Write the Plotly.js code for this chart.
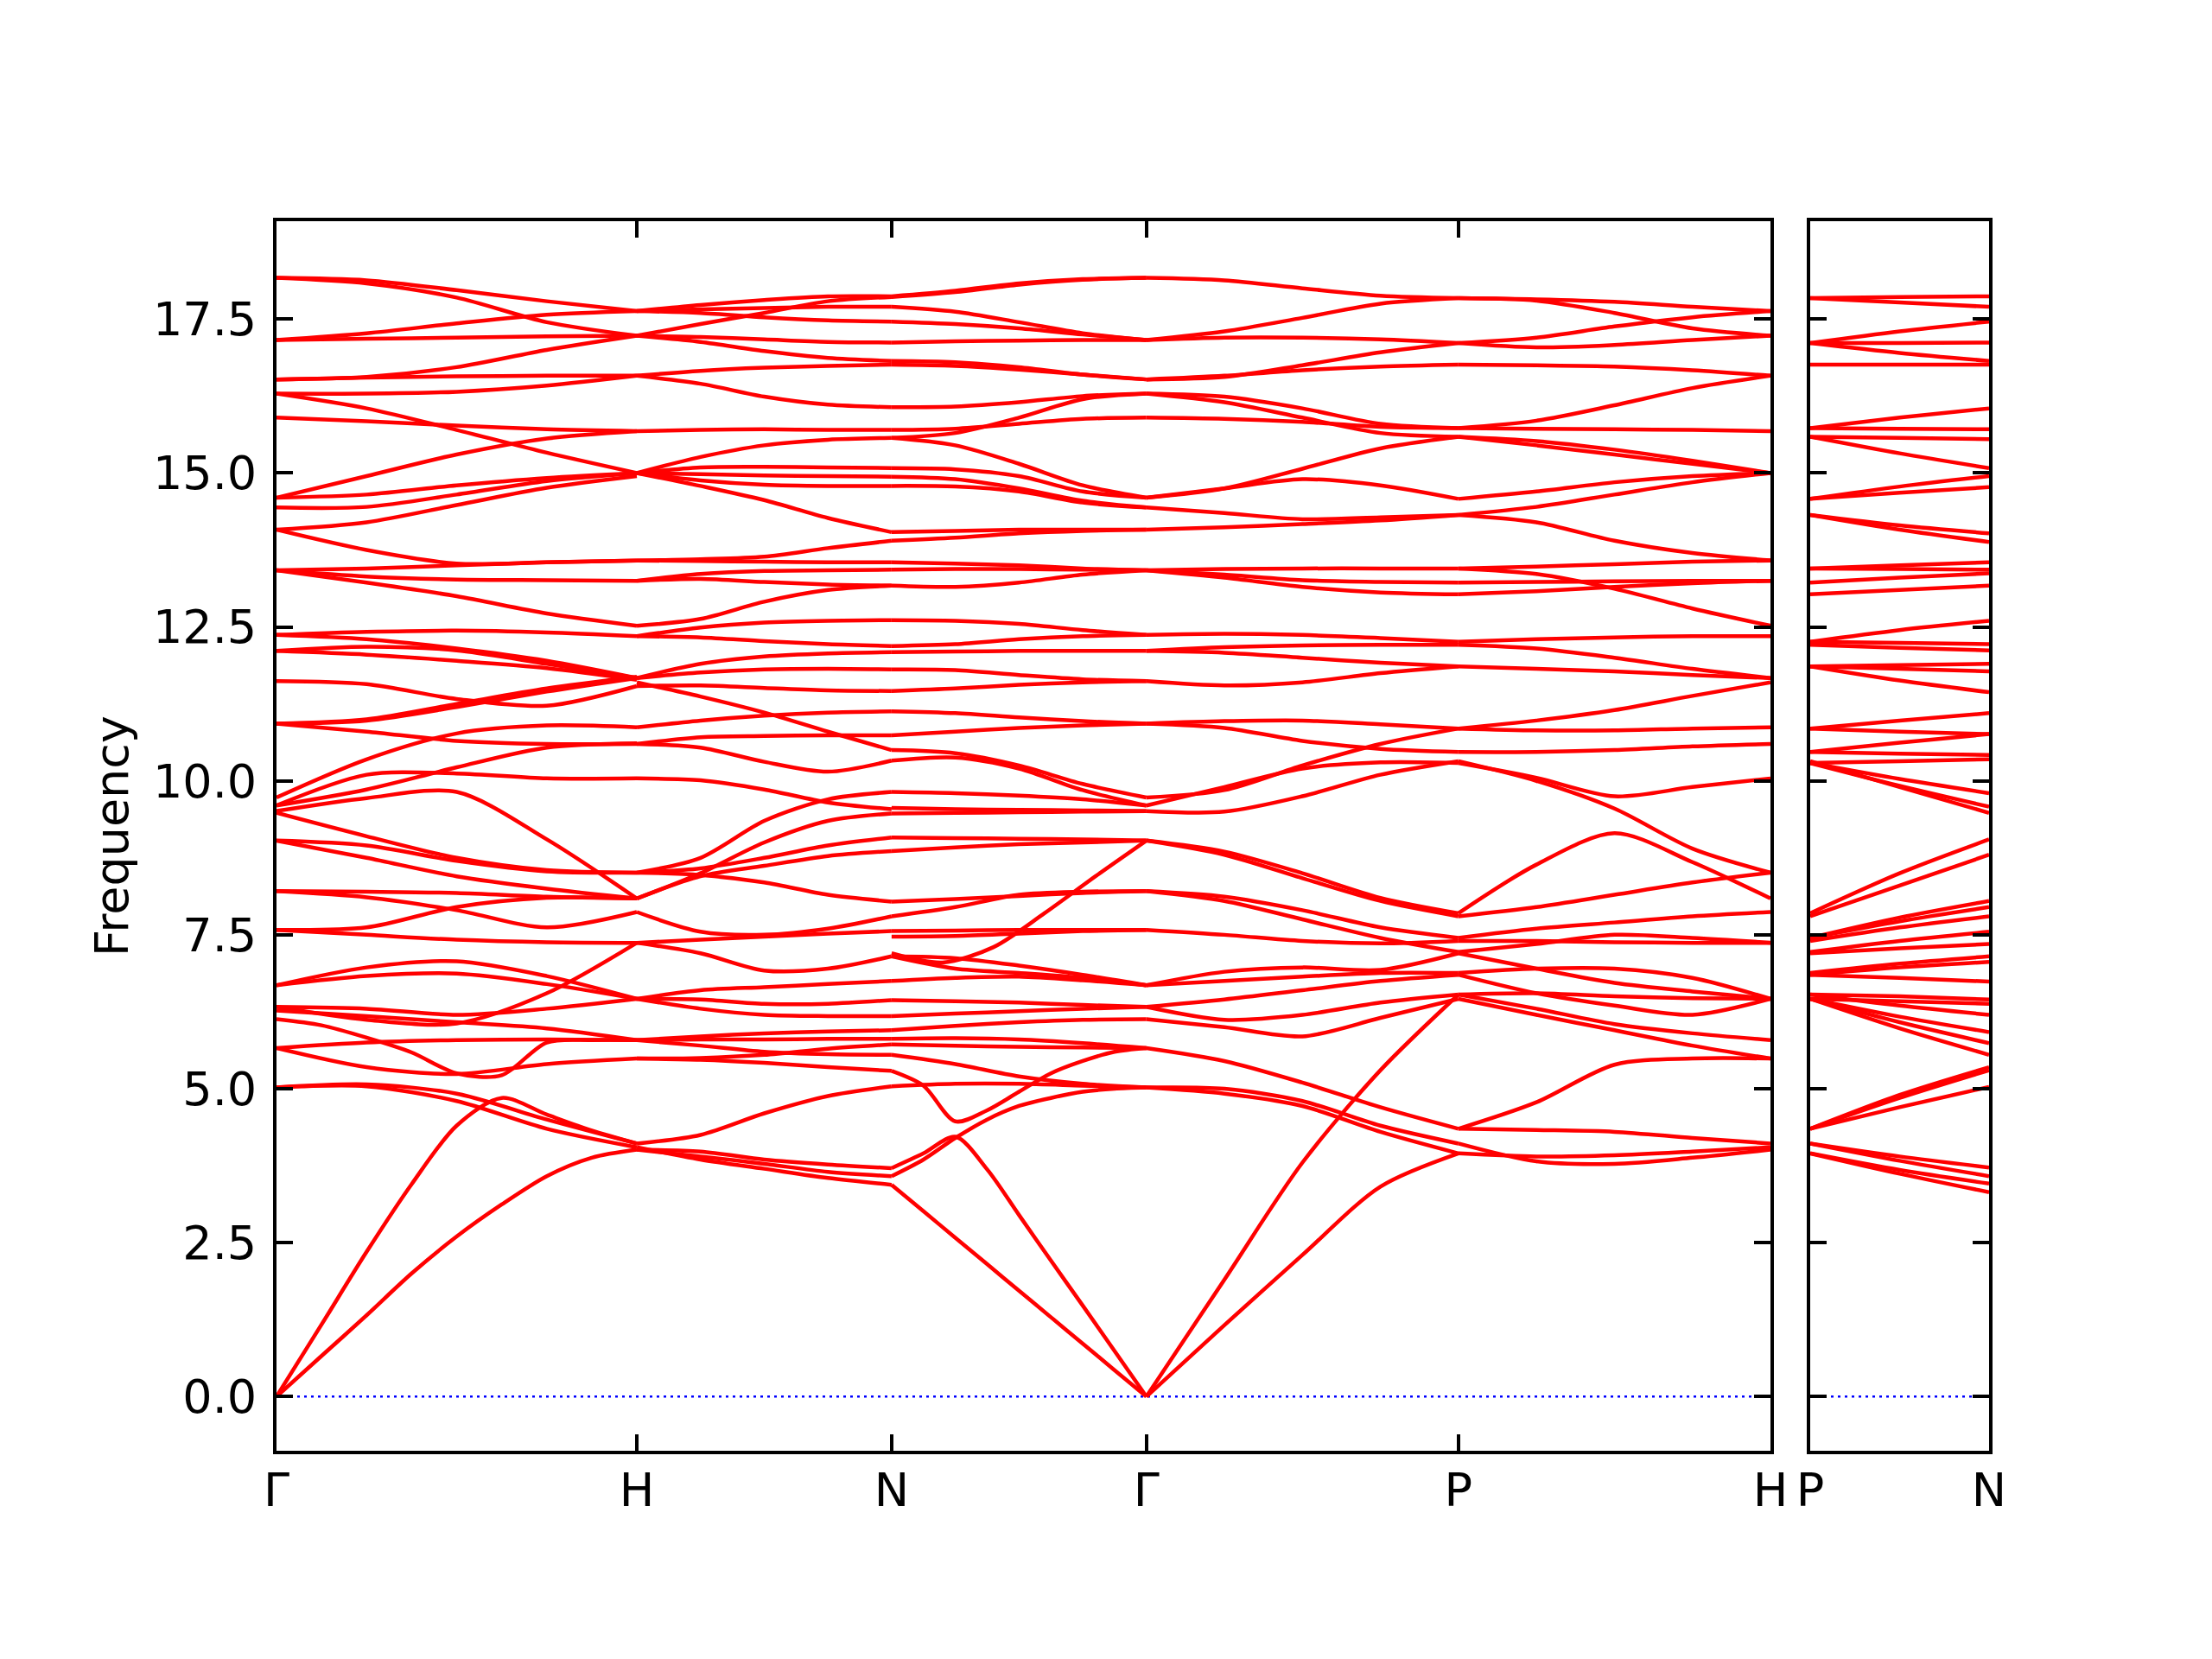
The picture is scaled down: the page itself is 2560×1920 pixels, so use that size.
<!DOCTYPE html>
<html><head><meta charset="utf-8">
<script src="https://cdn.plot.ly/plotly-3.0.1.min.js"></script>
<style>body{margin:0;background:#fff}</style>
</head><body><div id="chart" style="width:2560px;height:1920px"></div>
<script>
// ---- data ----
const segmentLengths = [1.0, 0.7071, 0.7071, 0.8660, 0.8660];   // Γ-H, H-N, N-Γ, Γ-P, P-H
const sideSegmentLength = 0.5;                                 // P-N
const mainTickLabels = ['Γ', 'H', 'N', 'Γ', 'P', 'H'];
const sideTickLabels = ['P', 'N'];
const yTickValues = [0, 2.5, 5, 7.5, 10, 12.5, 15, 17.5];
const zeroLevel = 0;

// each band: frequencies at evenly spaced points along the segment
const bandsGammaH = [
  [18.17,18.13,17.97,17.79,17.63],[18.17,18.08,17.85,17.45,17.23],[17.16,17.27,17.43,17.57,17.63],
  [17.16,17.18,17.2,17.22,17.23],[16.52,16.56,16.72,17.0,17.23],[16.52,16.55,16.57,16.58,16.58],
  [16.29,16.29,16.32,16.42,16.58],[16.29,16.05,15.7,15.33,15.0],[15.9,15.84,15.77,15.71,15.68],
  [14.6,14.95,15.3,15.56,15.68],[14.6,14.65,14.8,14.92,15.0],[14.44,14.45,14.65,14.87,15.0],
  [14.08,14.2,14.48,14.76,14.95],[14.08,13.75,13.53,13.55,13.58],[13.42,13.45,13.5,13.55,13.58],
  [13.42,13.32,13.27,13.26,13.25],[13.42,13.22,13.0,12.72,12.52],[12.37,12.42,12.44,12.41,12.35],
  [12.37,12.3,12.15,11.95,11.67],[12.11,12.18,12.12,11.9,11.67],[12.11,12.05,11.95,11.83,11.64],
  [11.62,11.57,11.33,11.22,11.54],[10.93,10.98,11.2,11.45,11.67],[10.93,11.0,11.25,11.5,11.69],
  [10.93,10.8,10.65,10.6,10.6],[9.73,10.35,10.77,10.9,10.87],[9.6,10.1,10.12,10.04,10.04],
  [9.6,9.86,10.22,10.54,10.61],[9.51,9.72,9.82,9.05,8.09],[9.48,9.1,8.75,8.55,8.51],
  [9.03,8.95,8.7,8.53,8.51],[9.03,8.75,8.45,8.25,8.09],[8.21,8.2,8.18,8.12,8.09],
  [8.21,8.11,7.9,7.62,7.87],[7.58,7.62,7.95,8.1,8.09],[7.58,7.5,7.42,7.38,7.37],
  [6.68,6.97,7.07,6.83,6.46],[6.68,6.83,6.87,6.7,6.46],[6.33,6.12,6.06,6.55,7.37],
  [6.33,6.3,6.2,6.3,6.46],[6.13,6.03,5.83,5.59,5.25,5.22,5.75,5.79,5.79],[6.27,6.18,6.08,5.98,5.79],
  [5.66,5.35,5.24,5.4,5.49],[5.66,5.75,5.79,5.8,5.79],[5.02,5.07,4.92,4.5,4.11],
  [5.02,5.04,4.8,4.35,4.05],[0,1.17,2.35,3.45,4.4,4.85,4.58,4.32,4.11],
  [0,0.66,1.32,2.0,2.6,3.12,3.58,3.88,4.01]
];
const bandsHN = [
  [17.63,17.73,17.81,17.87,17.87],[17.23,17.42,17.6,17.79,17.86],[17.63,17.66,17.68,17.7,17.7],
  [17.63,17.6,17.53,17.48,17.46],[17.23,17.21,17.17,17.13,17.12],[17.23,17.13,16.98,16.87,16.82],
  [16.58,16.66,16.71,16.74,16.76],[16.58,16.45,16.24,16.11,16.07],[15.68,15.7,15.71,15.7,15.7],
  [15.0,15.26,15.45,15.54,15.57],[15.0,15.09,15.1,15.09,15.08],[15.0,14.98,14.96,14.95,14.94],
  [15.0,14.88,14.81,14.79,14.79],[15.0,14.79,14.56,14.27,14.04],[13.58,13.6,13.64,13.78,13.9],
  [13.58,13.57,13.56,13.55,13.55],[13.25,13.36,13.41,13.42,13.43],[13.25,13.28,13.23,13.19,13.17],
  [12.52,12.63,12.91,13.1,13.17],[12.35,12.49,12.57,12.6,12.61],[12.35,12.33,12.27,12.22,12.19],
  [11.67,11.9,12.02,12.07,12.09],[11.67,11.76,11.81,11.82,11.81],[11.54,11.55,11.51,11.47,11.46],
  [11.6,11.37,11.11,10.8,10.5],[10.87,10.98,11.06,11.11,11.13],[10.6,10.71,10.73,10.74,10.74],
  [10.6,10.54,10.31,10.15,10.33],[10.04,10.01,9.86,9.65,9.54],[8.51,8.75,9.35,9.7,9.82],
  [8.51,8.58,8.75,8.95,9.08],[8.09,8.45,8.62,8.78,8.86],[8.09,8.5,9.0,9.35,9.47],
  [8.51,8.47,8.35,8.15,8.04],[7.87,7.55,7.5,7.6,7.8],[7.37,7.42,7.47,7.52,7.56],
  [7.37,7.2,6.92,6.95,7.15],[6.46,6.6,6.65,6.7,6.75],[6.46,6.45,6.38,6.38,6.44],
  [6.46,6.3,6.2,6.18,6.18],[5.79,5.85,5.9,5.93,5.95],[5.79,5.8,5.8,5.81,5.81],
  [5.49,5.5,5.55,5.65,5.72],[5.49,5.47,5.42,5.35,5.29],[5.79,5.7,5.6,5.56,5.55],
  [4.11,4.25,4.6,4.88,5.04],[4.01,3.98,3.85,3.77,3.71],[4.01,3.9,3.78,3.65,3.58],
  [4.05,3.85,3.7,3.55,3.44]
];
const bandsNGamma = [
  [17.87,17.96,18.08,18.15,18.17],[17.86,17.94,18.06,18.14,18.17],[17.7,17.62,17.45,17.27,17.16],
  [17.46,17.42,17.35,17.25,17.16],[17.12,17.14,17.15,17.16,17.16],[16.82,16.8,16.72,16.6,16.52],
  [16.76,16.74,16.68,16.6,16.52],[16.07,16.08,16.15,16.25,16.29],[15.7,15.72,15.8,15.88,15.9],
  [15.57,15.65,15.9,16.2,16.29],[15.57,15.45,15.15,14.8,14.6],[15.08,15.06,14.95,14.7,14.6],
  [14.94,14.9,14.75,14.55,14.44],[14.79,14.78,14.7,14.52,14.44],[14.04,14.06,14.08,14.08,14.08],
  [13.9,13.95,14.02,14.06,14.08],[13.55,13.53,13.5,13.45,13.42],[13.43,13.44,13.44,13.43,13.42],
  [13.17,13.15,13.22,13.35,13.42],[12.61,12.6,12.55,12.45,12.37],[12.19,12.22,12.3,12.35,12.37],
  [12.09,12.1,12.11,12.11,12.11],[11.81,11.8,11.72,11.65,11.62],[11.46,11.5,11.56,11.6,11.62],
  [11.13,11.1,11.03,10.97,10.93],[10.74,10.8,10.86,10.9,10.93],[10.5,10.45,10.25,9.95,9.73],
  [10.33,10.38,10.2,9.85,9.6],[9.82,9.8,9.76,9.7,9.6],[9.56,9.54,9.53,9.52,9.51],
  [9.47,9.48,9.49,9.5,9.51],[9.08,9.07,9.06,9.05,9.03],[8.86,8.92,8.97,9.0,9.03],
  [8.04,8.08,8.13,8.18,8.21],[7.8,7.95,8.15,8.2,8.21],[7.56,7.57,7.58,7.58,7.58],
  [7.47,7.48,7.52,7.56,7.58],[7.2,7.05,7.3,7.85,8.45,9.03],[7.15,7.12,7.0,6.85,6.68],
  [7.15,6.95,6.88,6.8,6.68],[6.75,6.8,6.82,6.76,6.68],[6.44,6.42,6.4,6.36,6.33],
  [6.18,6.22,6.26,6.3,6.33],[5.95,6.02,6.08,6.12,6.13],[5.81,5.82,5.8,5.74,5.66],
  [5.72,5.7,5.68,5.67,5.66],[5.55,5.4,5.2,5.08,5.02],[5.04,5.08,5.08,5.05,5.02],
  [5.29,5.05,4.47,4.65,4.95,5.25,5.45,5.6,5.66],[3.71,3.95,4.22,3.69,2.95,2.21,1.48,0.74,0],
  [3.58,3.85,4.2,4.5,4.72,4.85,4.95,5.0,5.02],[3.44,3.01,2.58,2.15,1.72,1.29,0.86,0.43,0]
];
const bandsGammaP = [
  [18.17,18.13,18.0,17.88,17.84],[17.16,17.3,17.52,17.75,17.84],[17.16,17.2,17.2,17.17,17.11],
  [16.52,16.58,16.67,16.73,16.76],[16.52,16.56,16.75,16.96,17.11],[16.29,16.24,16.05,15.8,15.73],
  [16.29,16.15,15.9,15.65,15.59],[15.9,15.88,15.83,15.75,15.73],[14.6,14.75,15.07,15.4,15.59],
  [14.6,14.75,14.9,14.8,14.58],[14.44,14.35,14.25,14.28,14.32],[14.08,14.12,14.17,14.23,14.32],
  [13.42,13.44,13.45,13.45,13.45],[13.42,13.35,13.26,13.23,13.22],[13.42,13.3,13.15,13.06,13.03],
  [12.37,12.39,12.37,12.32,12.26],[12.11,12.17,12.2,12.21,12.21],[12.11,12.08,12.0,11.92,11.86],
  [11.62,11.55,11.6,11.75,11.86],[10.93,10.97,10.98,10.92,10.85],[10.93,10.86,10.65,10.52,10.47],
  [9.73,9.85,10.25,10.6,10.85],[9.6,9.9,10.2,10.3,10.29],[9.51,9.5,9.75,10.1,10.32],
  [9.03,8.85,8.5,8.1,7.85],[9.03,8.8,8.42,8.05,7.8],[8.21,8.12,7.9,7.62,7.45],
  [8.21,8.05,7.75,7.45,7.22],[7.58,7.5,7.4,7.36,7.4],[6.68,6.9,6.97,6.93,7.2],
  [6.68,6.75,6.82,6.88,6.88],[6.33,6.45,6.6,6.75,6.85],[6.33,6.12,6.2,6.4,6.53],
  [6.13,6.0,5.85,6.15,6.46],[5.66,5.45,5.1,4.7,4.35],[5.02,5.0,4.8,4.4,4.11],
  [5.02,4.92,4.72,4.3,3.95],[0,1.9,3.8,5.3,6.53],[0,1.16,2.3,3.41,3.95]
];
const bandsPH = [
  [17.84,17.82,17.78,17.7,17.63],[17.84,17.8,17.6,17.35,17.23],[17.11,17.2,17.38,17.53,17.63],
  [17.11,17.04,17.08,17.16,17.23],[16.76,16.75,16.73,16.67,16.58],[15.73,15.85,16.1,16.38,16.58],
  [15.73,15.72,15.71,15.7,15.68],[15.59,15.45,15.3,15.15,15.0],[15.59,15.52,15.38,15.2,15.0],
  [14.58,14.7,14.85,14.95,15.0],[14.32,14.45,14.65,14.85,15.0],[14.32,14.2,13.9,13.7,13.58],
  [13.45,13.48,13.52,13.56,13.58],[13.22,13.23,13.24,13.25,13.25],[13.03,13.08,13.15,13.21,13.25],
  [13.45,13.36,13.12,12.8,12.52],[12.26,12.3,12.33,12.35,12.35],[12.21,12.15,12.0,11.82,11.67],
  [11.86,11.82,11.78,11.72,11.67],[10.85,10.98,11.15,11.38,11.6],[10.85,10.82,10.82,10.85,10.87],
  [10.47,10.47,10.5,10.56,10.6],[10.29,10.05,9.75,9.9,10.04],[10.32,10.0,9.55,8.9,8.51],
  [7.85,8.64,9.15,8.68,8.09],[7.8,7.95,8.15,8.35,8.51],[7.45,7.6,7.7,7.8,7.87],
  [7.4,7.4,7.38,7.37,7.37],[7.22,7.35,7.5,7.45,7.37],[7.2,6.95,6.72,6.58,6.46],
  [6.88,6.95,6.95,6.8,6.46],[6.85,6.55,6.35,6.2,6.46],[6.53,6.3,6.05,5.9,5.79],
  [6.46,6.2,5.95,5.7,5.49],[6.53,6.55,6.5,6.47,6.46],[4.35,4.78,5.39,5.49,5.49],
  [4.35,4.33,4.3,4.2,4.11],[4.11,3.82,3.78,3.88,4.01],[3.95,3.9,3.92,3.98,4.05]
];
const bandsPN = [
  [17.84,17.86,17.87],[17.84,17.77,17.7],[17.11,17.3,17.46],[17.11,17.11,17.12],[17.11,16.95,16.82],
  [16.76,16.76,16.76],[15.73,15.9,16.05],[15.73,15.72,15.71],[15.59,15.57,15.55],[15.59,15.32,15.08],
  [14.58,14.78,14.95],[14.58,14.68,14.77],[14.32,14.15,14.02],[14.32,14.08,13.88],[13.45,13.5,13.55],
  [13.45,13.44,13.43],[13.22,13.3,13.37],[13.03,13.1,13.17],[12.26,12.45,12.6],[12.26,12.24,12.22],
  [12.21,12.16,12.12],[11.86,11.88,11.9],[11.86,11.82,11.78],[11.86,11.63,11.44],[10.85,10.98,11.1],
  [10.85,10.8,10.76],[10.47,10.62,10.76],[10.47,10.44,10.42],[10.29,10.32,10.35],[10.29,10.03,9.8],
  [10.29,9.92,9.58],[10.32,9.9,9.48],[7.85,8.5,9.05],[7.8,8.3,8.8],[7.45,7.78,8.05],
  [7.45,7.72,7.95],[7.4,7.62,7.8],[7.22,7.4,7.55],[7.2,7.28,7.35],[6.88,7.03,7.15],
  [6.85,6.97,7.06],[6.85,6.8,6.74],[6.53,6.5,6.45],[6.53,6.35,6.2],[6.46,6.42,6.38],
  [6.46,6.17,5.92],[6.46,6.08,5.74],[6.46,5.98,5.55],[4.35,4.9,5.35],[4.35,4.85,5.3],
  [4.35,4.7,5.03],[4.11,3.9,3.72],[4.11,3.83,3.58],[3.95,3.68,3.46],[3.95,3.62,3.32]
];

// ---- build ----
const mainSegments = [bandsGammaH, bandsHN, bandsNGamma, bandsGammaP, bandsPH];
const tickPos = [0];
segmentLengths.forEach(l => tickPos.push(tickPos[tickPos.length - 1] + l));
const totalLength = tickPos[tickPos.length - 1];

function segmentTrace(curves, x0, len, xa, ya) {
  const xs = [], ys = [];
  curves.forEach(c => {
    const n = c.length;
    c.forEach((v, i) => { xs.push(x0 + len * i / (n - 1)); ys.push(v); });
    xs.push(null); ys.push(null);
  });
  return {type: 'scatter', mode: 'lines', x: xs, y: ys, xaxis: xa, yaxis: ya,
    line: {color: '#ff0000', width: 4.5, shape: 'spline', smoothing: 0.85},
    connectgaps: false, hoverinfo: 'skip', showlegend: false};
}

const traces = [];
traces.push({type: 'scatter', mode: 'lines', x: [0, totalLength], y: [zeroLevel, zeroLevel],
  xaxis: 'x', yaxis: 'y', line: {color: '#0000ff', width: 2.5, dash: '3px,5px'}, hoverinfo: 'skip', showlegend: false});
traces.push({type: 'scatter', mode: 'lines', x: [0, sideSegmentLength], y: [zeroLevel, zeroLevel],
  xaxis: 'x2', yaxis: 'y2', line: {color: '#0000ff', width: 2.5, dash: '3px,5px'}, hoverinfo: 'skip', showlegend: false});
mainSegments.forEach((seg, k) => traces.push(segmentTrace(seg, tickPos[k], segmentLengths[k], 'x', 'y')));
traces.push(segmentTrace(bandsPN, 0, sideSegmentLength, 'x2', 'y2'));

const font = {family: 'DejaVu Sans, sans-serif', size: 54, color: '#000'};
const yRange = [-0.88, 19.09];
const axisCommon = {showgrid: false, zeroline: false, showline: true, linecolor: '#000', linewidth: 4,
  mirror: 'ticks', ticks: 'inside', ticklen: 19, tickwidth: 4, tickcolor: '#000', tickfont: font};

const layout = {
  width: 2560, height: 1920,
  margin: {l: 320, r: 258, t: 256, b: 241},
  paper_bgcolor: '#fff', plot_bgcolor: '#fff',
  font: font,
  xaxis: Object.assign({}, axisCommon, {domain: [0, 0.87235], range: [0, totalLength],
    tickmode: 'array', tickvals: tickPos, ticktext: mainTickLabels, anchor: 'y', ticklabelstandoff: -5}),
  yaxis: Object.assign({}, axisCommon, {domain: [0, 1], range: yRange, tickmode: 'array',
    tickvals: yTickValues, ticktext: yTickValues.map(v => v.toFixed(1)), anchor: 'x',
    ticklabelstandoff: 8, title: {text: 'Frequency', font: font, standoff: 12}}),
  xaxis2: Object.assign({}, axisCommon, {domain: [0.89556, 1], range: [0, sideSegmentLength],
    tickmode: 'array', tickvals: [0, sideSegmentLength], ticktext: sideTickLabels, anchor: 'y2', ticklabelstandoff: -5}),
  yaxis2: Object.assign({}, axisCommon, {domain: [0, 1], range: yRange, tickmode: 'array',
    tickvals: yTickValues, showticklabels: false, anchor: 'x2'}),
  showlegend: false
};

Plotly.newPlot('chart', traces, layout, {staticPlot: true, displayModeBar: false});
</script></body></html>
